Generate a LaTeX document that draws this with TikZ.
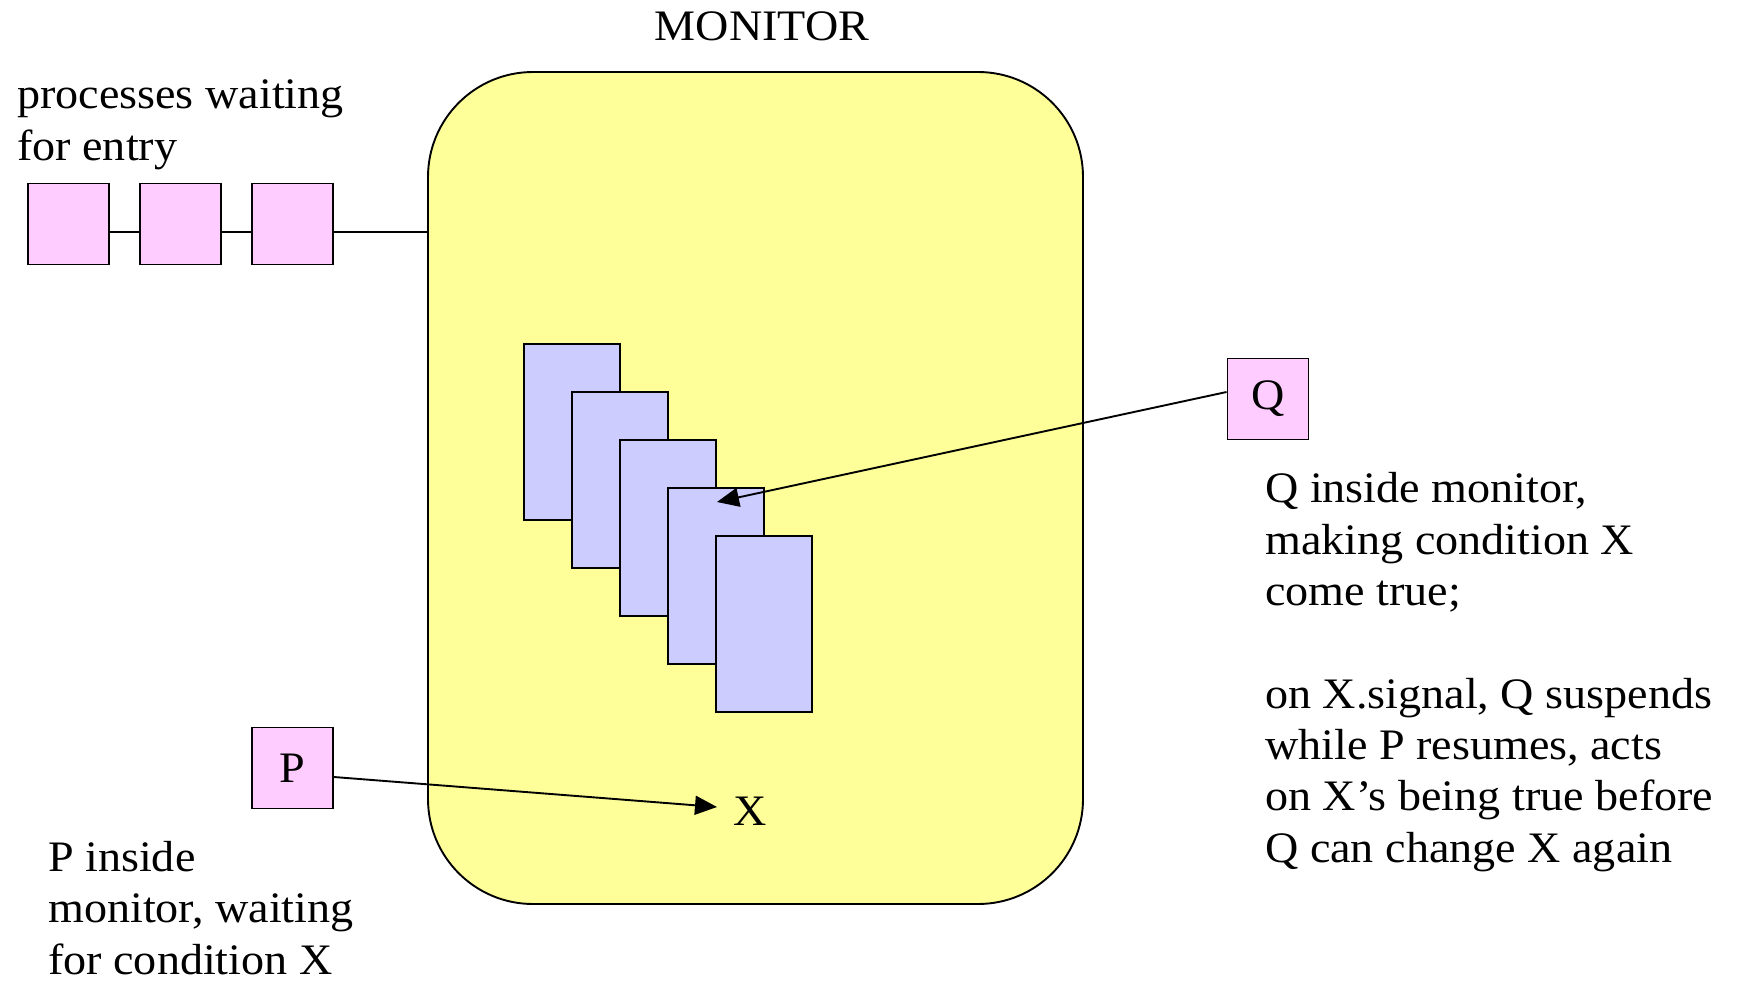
\documentclass[tikz,border=0pt]{standalone}
\usepackage{fontspec}
\setmainfont{Liberation Serif}[FakeStretch=1.06]
\usetikzlibrary{arrows.meta}

\definecolor{monyellow}{RGB}{255,255,153}
\definecolor{procpink}{RGB}{255,204,255}
\definecolor{condblue}{RGB}{204,204,255}

\tikzset{
  txt/.style={inner sep=0pt, align=left, anchor=base west,
    font=\fontsize{43.5}{51.3}\selectfont},
  proc/.style={draw=black, line width=1.9pt, fill=procpink, inner sep=0pt,
    minimum width=81pt, minimum height=81pt,
    font=\fontsize{43.5}{51.3}\selectfont},
  card/.style={draw=black, line width=1.9pt, fill=condblue, inner sep=0pt,
    minimum width=96pt, minimum height=176pt},
  link/.style={draw=black, line width=1.9pt},
  arr/.style={link, -{Triangle[length=22pt,width=19pt]}}
}

\begin{document}
\begin{tikzpicture}[x=1pt,y=-1pt]
  \useasboundingbox (0,0) rectangle (1737,980);

  % the monitor itself
  \node[draw=black, line width=1.9pt, fill=monyellow, rounded corners=105pt,
        minimum width=655pt, minimum height=832pt, inner sep=0pt]
        (monitor) at (755.5,488) {};
  \node[txt, anchor=base] (title) at (762,40) {MONITOR};

  % entry queue (multi-line text is placed by its last baseline)
  \node[txt] (entrytxt) at (17,160) {processes waiting\\for entry};
  \node[proc] (e1) at (68.5,224) {};
  \node[proc] (e2) at (180.5,224) {};
  \node[proc] (e3) at (292.5,224) {};
  \draw[link] ([yshift=-8pt]e1.east) -- ([yshift=-8pt]e2.west);
  \draw[link] ([yshift=-8pt]e2.east) -- ([yshift=-8pt]e3.west);
  \draw[link] ([yshift=-8pt]e3.east) -- ([yshift=-8pt]e3.east -| monitor.west);

  % condition queue (stacked frames)
  \node[card] (c1) at (572,432) {};
  \node[card] (c2) at (620,480) {};
  \node[card] (c3) at (668,528) {};
  \node[card] (c4) at (716,576) {};
  \node[card] (c5) at (764,624) {};

  % process Q
  \node[proc] (Q) at (1268,399) {Q};
  \coordinate (qtip) at (717,502);
  \draw[arr] ([yshift=7pt]Q.west) -- (qtip);
  \node[txt] (qtxt) at (1265,862) {Q inside monitor,\\making condition X\\come true;\\[51.3pt]on X.signal, Q suspends\\while P resumes, acts\\on X’s being true before\\Q can change X again};

  % process P
  \node[proc] (P) at (292.5,768) {P};
  \node[txt, anchor=base] (X) at (750,825) {X};
  \coordinate (ptip) at (717,807);
  \draw[arr] ([yshift=-9pt]P.east) -- (ptip);
  \node[txt] (ptxt) at (48,974) {P inside\\monitor, waiting\\for condition X};
\end{tikzpicture}
\end{document}
